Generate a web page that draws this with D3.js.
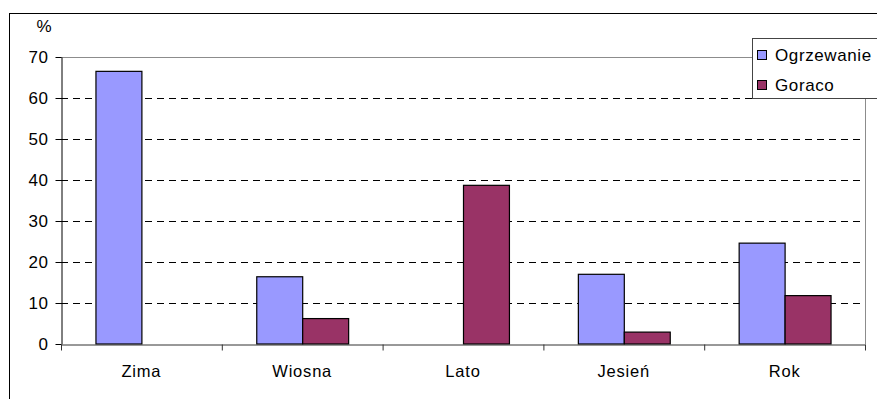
<!DOCTYPE html>
<html>
<head>
<meta charset="utf-8">
<script src="https://cdn.jsdelivr.net/npm/d3@7"></script>
<style>
  html, body { margin: 0; padding: 0; background: #fff; }
  svg { display: block; font-family: "Liberation Sans", Arial, sans-serif; }
</style>
</head>
<body>
<svg id="chart" width="877" height="399"></svg>
<script>
// Seasonal shares (%) per category
const categories = ["Zima", "Wiosna", "Lato", "Jesień", "Rok"];
const seriesNames = ["Ogrzewanie", "Goraco"];
const ogrzewanie = [66.5, 16.4, 0, 17.0, 24.6];
const goraco = [0, 6.2, 38.7, 2.9, 11.8];
const yTicks = [0, 10, 20, 30, 40, 50, 60, 70];
const colors = ["#9999FF", "#993366"];

const FONT = "'Liberation Sans', Arial, sans-serif";
const svg = d3.select("#chart");
const plot = { left: 61, right: 865, top: 57, bottom: 344 };

// Outer chart frame
svg.append("rect")
  .attr("x", 9.5).attr("y", 13.5)
  .attr("width", 900).attr("height", 420)
  .attr("fill", "#fff").attr("stroke", "#000").attr("stroke-width", 1);

const y = d3.scaleLinear().domain([0, 70]).range([plot.bottom, plot.top]);
const x0 = d3.scaleBand().domain(categories).range([plot.left, plot.right]).padding(0);
const x1 = d3.scaleBand().domain(seriesNames).range([0, x0.bandwidth()])
  .paddingInner(0).paddingOuter(0.75);

// Dashed horizontal gridlines
svg.append("g").selectAll("line")
  .data(yTicks.filter(v => v > 0 && v < 70))
  .join("line")
  .attr("x1", plot.left).attr("x2", plot.right)
  .attr("y1", d => Math.round(y(d)) + 0.5).attr("y2", d => Math.round(y(d)) + 0.5)
  .attr("stroke", "#000").attr("stroke-width", 1)
  .attr("stroke-dasharray", "7,5");

// Plot-area border: top and right edges
svg.append("path")
  .attr("d", `M${plot.left},${Math.round(y(70)) + 0.5}H${plot.right + 0.5}V${plot.bottom}`)
  .attr("fill", "none").attr("stroke", "#8c8c8c").attr("stroke-width", 1);

// Bars
const rows = categories.map((c, i) => ({ cat: c, values: [ogrzewanie[i], goraco[i]] }));
const groups = svg.append("g").selectAll("g")
  .data(rows).join("g")
  .attr("transform", d => `translate(${x0(d.cat)},0)`);
groups.selectAll("rect")
  .data(d => d.values.map((v, j) => ({ name: seriesNames[j], value: v, color: colors[j] })).filter(e => e.value > 0))
  .join("rect")
  .attr("x", d => x1(d.name) + 0.5)
  .attr("y", d => y(d.value))
  .attr("width", x1.bandwidth())
  .attr("height", d => y(0) - y(d.value))
  .attr("fill", d => d.color)
  .attr("stroke", "#000").attr("stroke-width", 1.2);

// Y axis
const yAxis = svg.append("g")
  .attr("transform", `translate(${plot.left + 0.5},0)`)
  .call(d3.axisLeft(y).tickValues(yTicks).tickSize(6).tickSizeOuter(0).tickPadding(7));
yAxis.attr("font-family", FONT).attr("font-size", 17);
yAxis.select(".domain").attr("stroke", "#000");
yAxis.selectAll(".tick line").attr("stroke", "#000");
yAxis.selectAll(".tick text")
  .attr("fill", "#000")
  .attr("letter-spacing", 0.6)
  .attr("dy", "0.33em");

// X axis: ticks at category boundaries
const xb = d3.scaleLinear().domain([0, categories.length]).range([plot.left, plot.right]);
const xAxis = svg.append("g")
  .attr("transform", `translate(0,${plot.bottom + 0.5})`)
  .call(d3.axisBottom(xb).tickValues(d3.range(categories.length + 1)).tickSize(6).tickSizeOuter(0).tickFormat(""));
xAxis.select(".domain").attr("stroke", "#333");
xAxis.selectAll(".tick line").attr("stroke", "#333");

// Category labels
svg.append("g").selectAll("text")
  .data(categories).join("text")
  .attr("x", d => x0(d) + x0.bandwidth() / 2)
  .attr("y", 377)
  .attr("text-anchor", "middle")
  .attr("font-size", 16.5)
  .attr("letter-spacing", 0.8)
  .attr("fill", "#000")
  .text(d => d);

// Unit label
svg.append("text")
  .attr("x", 44).attr("y", 32)
  .attr("text-anchor", "middle")
  .attr("font-size", 17)
  .text("%");

// Legend
const legend = svg.append("g");
legend.append("rect")
  .attr("x", 752.5).attr("y", 38.5)
  .attr("width", 140).attr("height", 60)
  .attr("fill", "#fff").attr("stroke", "#444").attr("stroke-width", 1);
const items = legend.selectAll("g.item")
  .data(seriesNames).join("g").attr("class", "item")
  .attr("transform", (d, i) => `translate(0,${i * 30})`);
items.append("rect")
  .attr("x", 757.5).attr("y", 50.5)
  .attr("width", 9).attr("height", 9)
  .attr("fill", (d, i) => colors[i])
  .attr("stroke", "#000").attr("stroke-width", 1);
items.append("text")
  .attr("x", 775).attr("y", 61)
  .attr("font-size", 17)
  .attr("letter-spacing", 0.6)
  .attr("fill", "#000")
  .text(d => d);
</script>
</body>
</html>
